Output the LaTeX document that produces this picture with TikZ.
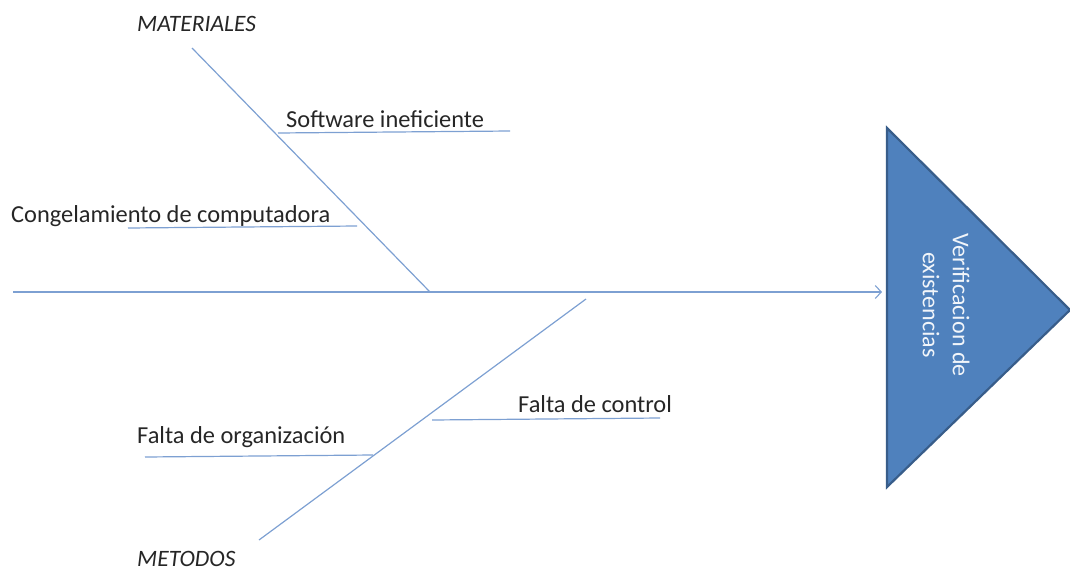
\documentclass[tikz,border=0pt]{standalone}
\usepackage{fontspec}
\setmainfont{Carlito}
\usetikzlibrary{arrows.meta}
\definecolor{bone}{RGB}{125,160,210}
\definecolor{headfill}{RGB}{79,129,189}
\definecolor{headdraw}{RGB}{56,93,138}
\tikzset{
  boneline/.style={draw=bone, line width=1.2pt},
  lbl/.style={inner sep=0pt, anchor=base west, font=\fontsize{24.4}{28}\selectfont, text=black!85},
  cat/.style={lbl, font=\fontsize{23.5}{28}\selectfont\itshape},
}
\begin{document}
\begin{tikzpicture}[x=1pt,y=-1pt]
\useasboundingbox (0,0) rectangle (1070,570);

% effect head
\coordinate (t1) at (887,128);
\coordinate (t2) at (1070,310);
\coordinate (t3) at (887,487);
\filldraw[fill=headfill, draw=headdraw, line width=2.2pt, line join=miter] (t1) -- (t2) -- (t3) -- cycle;
\node[rotate=-90, align=center, text=white!92!headfill, font=\fontsize{24}{30}\selectfont, inner sep=0pt] (head) at (946,305) {Verificacion de\\existencias};

% spine
\coordinate (s0) at (13,292);
\coordinate (s1) at (882,292);
\draw[boneline, -{Straight Barb[length=6pt,width=13pt,line width=1.1pt]}] (s0) -- (s1);

% upper bone
\coordinate (m0) at (192,48);
\coordinate (m1) at (430,292);
\draw[boneline] (m0) -- (m1);
\node[cat] (mat) at (137,31) {MATERIALES};

\coordinate (a0) at (278,133);
\coordinate (a1) at (510,131);
\draw[boneline] (a0) -- (a1);
\node[lbl] (la) at (286,127) {Software ineficiente};

\coordinate (b0) at (128,228);
\coordinate (b1) at (357,226);
\draw[boneline] (b0) -- (b1);
\node[lbl] (lb) at (11,222) {Congelamiento de computadora};

% lower bone
\coordinate (d0) at (586,299);
\coordinate (d1) at (259,540);
\draw[boneline] (d0) -- (d1);
\node[cat] (met) at (137,566) {METODOS};

\coordinate (c0) at (432,420);
\coordinate (c1) at (660,418);
\draw[boneline] (c0) -- (c1);
\node[lbl] (lc) at (518,412) {Falta de control};

\coordinate (e0) at (145,457);
\coordinate (e1) at (373,455);
\draw[boneline] (e0) -- (e1);
\node[lbl] (le) at (137,443) {Falta de organización};
\end{tikzpicture}
\end{document}
